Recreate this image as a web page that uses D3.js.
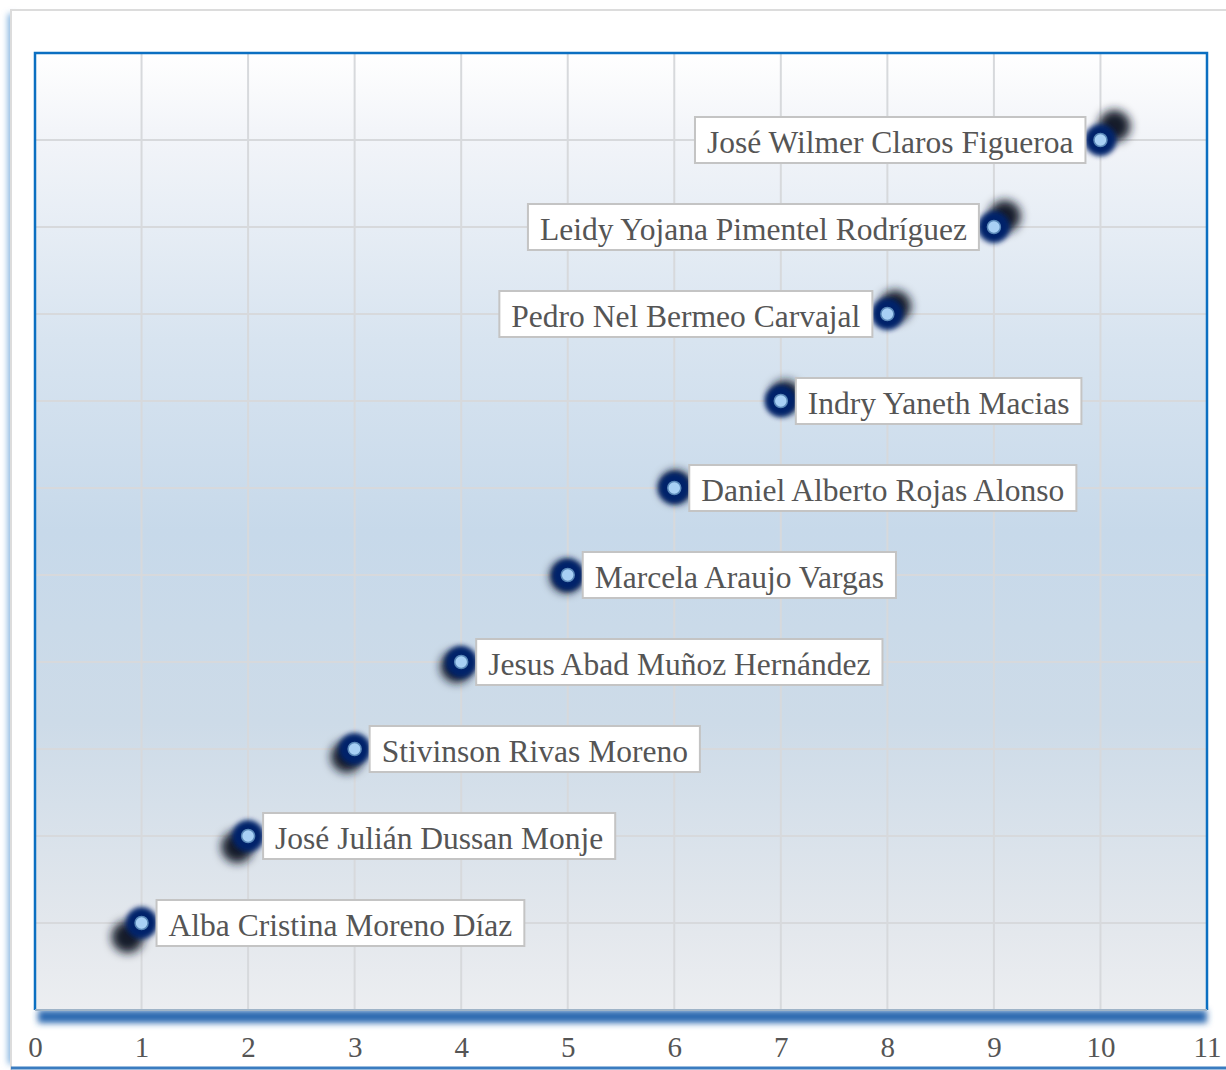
<!DOCTYPE html>
<html>
<head>
<meta charset="utf-8">
<script src="https://cdn.jsdelivr.net/npm/d3@7"></script>
<style>
  body { margin: 0; background: #fff; }
  svg { display: block; }
</style>
</head>
<body>
<div id="chart"></div>
<script>
// data
const names = [
  "Alba Cristina Moreno Díaz",
  "José Julián Dussan Monje",
  "Stivinson Rivas Moreno",
  "Jesus Abad Muñoz Hernández",
  "Marcela Araujo Vargas",
  "Daniel Alberto Rojas Alonso",
  "Indry Yaneth Macias",
  "Pedro Nel Bermeo Carvajal",
  "Leidy Yojana Pimentel Rodríguez",
  "José Wilmer Claros Figueroa"
];
const xValues = [1, 2, 3, 4, 5, 6, 7, 8, 9, 10];
const yValues = [1, 2, 3, 4, 5, 6, 7, 8, 9, 10];
const xTicks = [0, 1, 2, 3, 4, 5, 6, 7, 8, 9, 10, 11];
const yGrid = [1, 2, 3, 4, 5, 6, 7, 8, 9, 10];

const W = 1226, H = 1070;
const margin = { top: 53, right: 19, bottom: 60, left: 35 };
const serif = "'Liberation Serif', 'Times New Roman', Times, serif";

const svg = d3.select("#chart").append("svg")
  .attr("width", W).attr("height", H);

const defs = svg.append("defs");

const grad = defs.append("linearGradient")
  .attr("id", "bg").attr("x1", 0).attr("y1", 0).attr("x2", 0).attr("y2", 1);
[[0, "#ffffff"], [0.08, "#f3f5f9"], [0.3, "#d8e4f0"], [0.5, "#c7d9ea"], [0.7, "#cddbe8"], [0.92, "#e4e8ed"], [1, "#eceef1"]]
  .forEach(s => grad.append("stop").attr("offset", s[0]).attr("stop-color", s[1]));

function blur(id, sd) {
  defs.append("filter").attr("id", id)
    .attr("x", "-100%").attr("y", "-100%").attr("width", "300%").attr("height", "300%")
    .append("feGaussianBlur").attr("stdDeviation", sd);
}
blur("blurShadow", 5);
blur("blurGlow", 2.5);
blur("blurEdge", 3);

// outer frame with blue glow at left and bottom
svg.append("rect")
  .attr("x", 8).attr("y", 14).attr("width", 8).attr("height", H - 20)
  .attr("fill", "#7fb0de").attr("filter", "url(#blurEdge)");
svg.append("rect")
  .attr("x", 11).attr("y", 10).attr("width", W).attr("height", H - 4)
  .attr("fill", "#fff").attr("stroke", "#dcdcdc").attr("stroke-width", 2);
svg.append("line")
  .attr("x1", 11).attr("x2", W).attr("y1", H - 2).attr("y2", H - 2)
  .attr("stroke", "#3a7cc0").attr("stroke-width", 3);

const x0 = margin.left, x1 = W - margin.right;
const y0 = H - margin.bottom, y1 = margin.top;

const x = d3.scaleLinear().domain([0, 11]).range([x0, x1]);
const y = d3.scaleLinear().domain([0, 11]).range([y0, y1]);

// blue shadow under the plot
svg.append("rect")
  .attr("x", x0 + 3).attr("y", y0).attr("width", x1 - x0 - 3).attr("height", 13)
  .attr("fill", "#2a69b0").attr("filter", "url(#blurEdge)");

// plot background
svg.append("rect")
  .attr("x", x0).attr("y", y1).attr("width", x1 - x0).attr("height", y0 - y1)
  .attr("fill", "url(#bg)");

// grid
const grid = svg.append("g").attr("stroke", "#d7d9dc").attr("stroke-width", 2);
grid.selectAll(".vx").data(xTicks.slice(1, -1)).join("line")
  .attr("x1", d => x(d)).attr("x2", d => x(d)).attr("y1", y1).attr("y2", y0);
grid.selectAll(".hy").data(yGrid).join("line")
  .attr("x1", x0).attr("x2", x1).attr("y1", d => y(d)).attr("y2", d => y(d));

// plot border
svg.append("path")
  .attr("d", `M${x0},${y0}V${y1}H${x1}V${y0}`)
  .attr("fill", "none").attr("stroke", "#0b6fc1").attr("stroke-width", 2.5);
svg.append("line")
  .attr("x1", x0).attr("x2", x1).attr("y1", y0).attr("y2", y0)
  .attr("stroke", "#9fb4c8").attr("stroke-width", 2);

// x axis labels
const axis = svg.append("g")
  .attr("transform", `translate(0,${y0 + 18})`)
  .call(d3.axisBottom(x).tickValues(xTicks).tickSize(0).tickPadding(0));
axis.select(".domain").remove();
axis.selectAll("text")
  .attr("dy", "1em")
  .attr("font-family", serif)
  .attr("font-size", 29)
  .attr("fill", "#555");

// points
const pts = xValues.map((v, i) => ({ x: v, y: yValues[i], name: names[i] }));
const mid = (d3.min(xValues) + d3.max(xValues)) / 2;

const pg = svg.append("g");
pg.selectAll(".shadow").data(pts).join("circle")
  .attr("cx", d => x(d.x) + (d.x - mid) * 3.1)
  .attr("cy", d => y(d.y) - (d.x - mid) * 3.1)
  .attr("r", 16)
  .attr("fill", "#131c2c")
  .attr("filter", "url(#blurShadow)");
pg.selectAll(".glow").data(pts).join("circle")
  .attr("cx", d => x(d.x)).attr("cy", d => y(d.y))
  .attr("r", 16)
  .attr("fill", "#03246a")
  .attr("filter", "url(#blurGlow)");
pg.selectAll(".dot").data(pts).join("circle")
  .attr("cx", d => x(d.x)).attr("cy", d => y(d.y))
  .attr("r", 6.5)
  .attr("fill", "#a8d0f5")
  .attr("stroke", "#5a88b8").attr("stroke-width", 1.5);

// labels
const fontSize = 31.5, padX = 12, boxH = 46, gap = 15;
const lg = svg.append("g");
pts.forEach(d => {
  const g = lg.append("g");
  const rect = g.append("rect");
  const t = g.append("text")
    .attr("font-family", serif)
    .attr("font-size", fontSize)
    .attr("fill", "#555")
    .attr("dominant-baseline", "central")
    .text(d.name);
  const tw = t.node().getComputedTextLength();
  const bw = tw + 2 * padX;
  const px = x(d.x), py = y(d.y);
  let bx = px + gap;
  if (bx + bw > x1 - 8) bx = px - gap - bw;
  rect.attr("x", bx).attr("y", py - boxH / 2).attr("width", bw).attr("height", boxH)
    .attr("fill", "#fff").attr("stroke", "#c4c4c4").attr("stroke-width", 2);
  t.attr("x", bx + padX).attr("y", py + 2);
});
</script>
</body>
</html>
